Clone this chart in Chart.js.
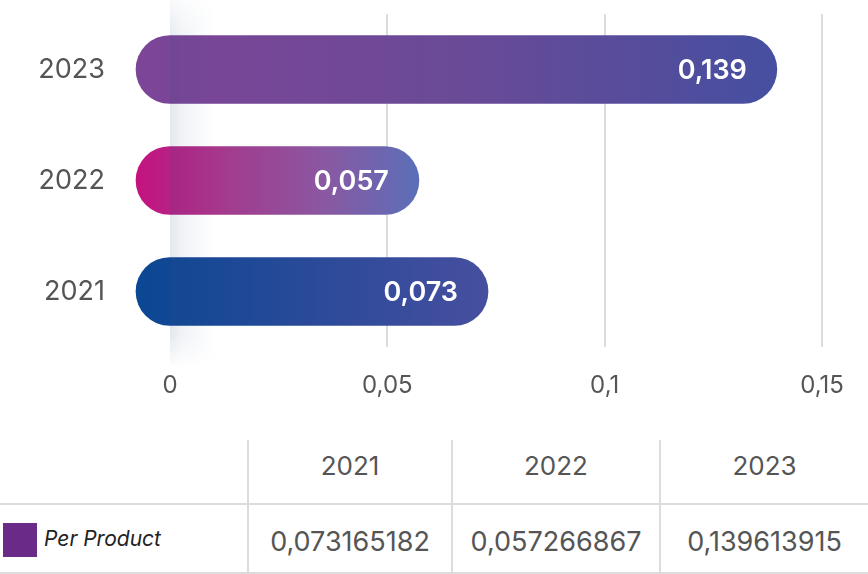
<!DOCTYPE html>
<html>
<head>
<meta charset="utf-8">
<script src="https://cdn.jsdelivr.net/npm/chart.js@4.4.1/dist/chart.umd.min.js"></script>
<style>
  body { margin: 0; background: #fff; font-family: Inter, "Noto Sans", sans-serif; }
  #wrap { position: relative; width: 868px; height: 574px; overflow: hidden; }
  #chart { position: absolute; left: 0; top: 0; }
  #tbl { position: absolute; left: 0; top: 440px; width: 868px; border-collapse: collapse; table-layout: fixed; color: #555; }
  #tbl td, #tbl th { padding: 0; text-align: center; font-weight: 400; }
  #tbl th { height: 64px; font-size: 26px; padding-bottom: 12px; box-sizing: border-box; }
  #tbl td { height: 69px; font-size: 27px; padding-top: 5px; box-sizing: border-box; border-top: 2px solid #dcdcdc; border-bottom: 2px solid #dcdcdc; }
  #tbl th + th, #tbl td + td { border-left: 2px solid #dcdcdc; }
  #tbl td.name { text-align: left; font-style: italic; font-size: 21px; color: #222; padding-top: 2px; }
  .swatch { display: inline-block; width: 34px; height: 34px; background: #6a2a88; vertical-align: middle; margin: 0 7px 0 3px; }
</style>
</head>
<body>
<div id="wrap">
  <canvas id="chart" width="868" height="420"></canvas>
  <table id="tbl"></table>
</div>
<script>
const years = ['2021', '2022', '2023'];
const perProduct = [0.073165182, 0.057266867, 0.139613915];
const xTicks = [0, 0.05, 0.1, 0.15];
const seriesName = 'Per Product';

// left -> right gradient stops for each year's bar
const barColors = [
    ['#0b4793', '#2a4a99', '#474f9f'],
    ['#c4127e', '#a23c8e', '#8a58a2', '#5a6fb8'],
    ['#7d4597', '#6a4a97', '#464fa0']
];
const BAR_H = 68;

const fmt = v => String(v).replace('.', ',');
// bar labels show three decimals, cut rather than rounded
const short = v => fmt((Math.floor(v * 1000) / 1000).toFixed(3));

function barGradient(ctx) {
    const chart = ctx.chart;
    const xs = chart.scales.x;
    const i = ctx.dataIndex;
    if (!xs || i === undefined) return barColors[0][0];
    const x0 = xs.getPixelForValue(0) - BAR_H / 2;
    const x1 = xs.getPixelForValue(perProduct[i]);
    if (!isFinite(x0) || !isFinite(x1) || x1 <= x0) return barColors[i][0];
    const g = chart.ctx.createLinearGradient(x0, 0, x1, 0);
    const c = barColors[i];
    c.forEach((col, k) => g.addColorStop(k / (c.length - 1), col));
    return g;
}

// pill bars start half a bar height left of zero
const pillBase = {
    id: 'pillBase',
    beforeDatasetsDraw(chart) {
        const zero = chart.scales.x.getPixelForValue(0);
        chart.getDatasetMeta(0).data.forEach(el => {
            el.base = zero - el.height / 2;
        });
    }
};

// soft shadow along the zero line + value labels inside the bars
const overlay = {
    id: 'overlay',
    afterDatasetsDraw(chart) {
        const c = chart.ctx;
        const zero = chart.scales.x.getPixelForValue(0);
        const w = 46;
        const g = c.createLinearGradient(zero, 0, zero + w, 0);
        g.addColorStop(0, 'rgba(40,75,125,0.13)');
        g.addColorStop(0.25, 'rgba(40,75,125,0.07)');
        g.addColorStop(1, 'rgba(40,75,125,0)');
        c.save();
        c.fillStyle = g;
        for (let y = 0; y < 370; y++) {
            let a = 1;
            if (y < 40) a = 0.25 + 0.75 * y / 40;
            else if (y > 335) a = Math.max(0, 1 - (y - 335) / 32);
            c.globalAlpha = a;
            c.fillRect(zero, y, w, 1);
        }
        c.restore();

        c.save();
        c.fillStyle = '#fff';
        c.font = '600 27px Inter, "Noto Sans", sans-serif';
        c.textAlign = 'right';
        c.textBaseline = 'middle';
        chart.getDatasetMeta(0).data.forEach((el, i) => {
            c.fillText(short(perProduct[i]), el.x - 30, el.y + 1);
        });
        c.restore();
    }
};

new Chart(document.getElementById('chart'), {
    type: 'bar',
    data: {
        labels: years,
        datasets: [{
            label: seriesName,
            data: perProduct,
            backgroundColor: barGradient,
            barThickness: BAR_H,
            borderRadius: BAR_H / 2,
            borderSkipped: false,
            clip: false
        }]
    },
    options: {
        indexAxis: 'y',
        responsive: false,
        animation: false,
        layout: { padding: { top: 14, right: 46, left: 0, bottom: 0 } },
        plugins: { legend: { display: false }, tooltip: { enabled: false } },
        scales: {
            x: {
                min: 0,
                max: 0.15,
                afterBuildTicks: s => { s.ticks = xTicks.map(v => ({ value: v })); },
                afterFit: s => { s.height = 73; },
                border: { display: false },
                grid: {
                    drawTicks: false,
                    lineWidth: 2,
                    color: ctx => (ctx.tick && ctx.tick.value === 0) ? 'rgba(0,0,0,0)' : '#dcdcdc'
                },
                ticks: {
                    padding: 24,
                    color: '#555',
                    font: { size: 24, family: 'Inter, "Noto Sans", sans-serif' },
                    callback: v => fmt(v)
                }
            },
            y: {
                reverse: true,
                afterFit: s => { s.width = 170; s.paddingTop = 0; s.paddingBottom = 0; },
                border: { display: false },
                grid: { display: false, drawTicks: false },
                ticks: {
                    padding: 65,
                    color: '#555',
                    font: { size: 27, family: 'Inter, "Noto Sans", sans-serif' }
                }
            }
        }
    },
    plugins: [pillBase, overlay]
});

// data table under the chart
const tbl = document.getElementById('tbl');
tbl.innerHTML =
    '<colgroup><col style="width:248px"><col style="width:204px"><col style="width:208px"><col style="width:208px"></colgroup>' +
    '<tr><th></th>' + years.map(y => `<th>${y}</th>`).join('') + '</tr>' +
    `<tr><td class="name"><span class="swatch"></span>${seriesName}</td>` +
    perProduct.map(v => `<td>${fmt(v)}</td>`).join('') + '</tr>';
</script>
</body>
</html>
